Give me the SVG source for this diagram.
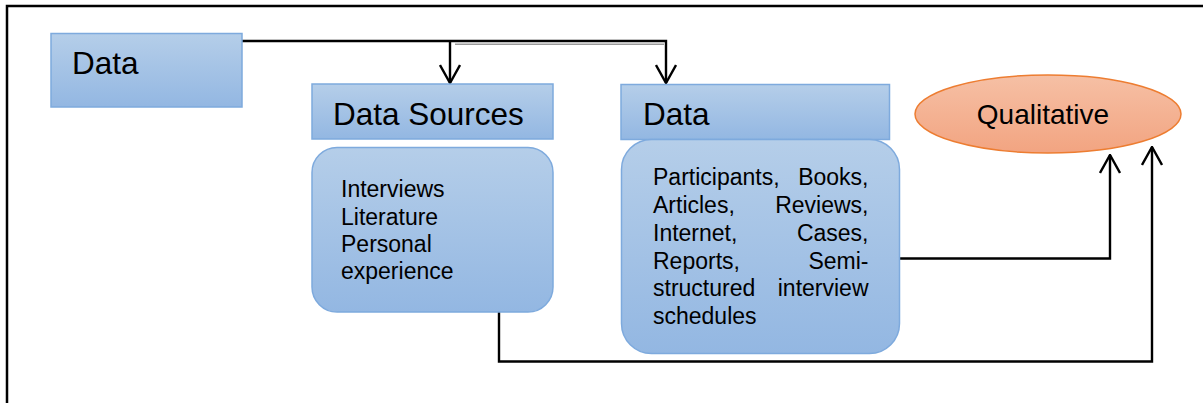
<svg xmlns="http://www.w3.org/2000/svg" width="1203" height="403" viewBox="0 0 1203 403">
<defs>
<linearGradient id="blue" x1="0" y1="0" x2="0" y2="1">
<stop offset="0" stop-color="#b5cee9"/>
<stop offset="1" stop-color="#93b7e2"/>
</linearGradient>
<linearGradient id="orange" x1="0" y1="0" x2="0" y2="1">
<stop offset="0" stop-color="#f6c0a5"/>
<stop offset="1" stop-color="#f2a481"/>
</linearGradient>
<marker id="arr" viewBox="0 0 20 22" refX="19" refY="11" markerWidth="20" markerHeight="22" markerUnits="userSpaceOnUse" orient="auto">
<path d="M1,1 L19,11 L1,21" fill="none" stroke="#000" stroke-width="2.4"/>
</marker>
<style>
.box{fill:url(#blue);stroke:#7eaadd;stroke-width:1.5}
.t{font-family:"Liberation Sans",Arial,sans-serif;fill:#000}
.big{font-size:31.5px}
.mid{font-size:23px}
.r{text-anchor:end}
.con{fill:none;stroke:#000;stroke-width:2.4}
</style>
</defs>
<path d="M7,403 V6 H1203" fill="none" stroke="#000" stroke-width="2.5"/>
<g id="connectors">
<path class="con" d="M242,41 H453"/>
<path class="con" d="M450,41 V83" marker-end="url(#arr)"/>
<path d="M455,44.3 H664" fill="none" stroke="#999" stroke-width="1.5"/>
<path class="con" d="M453,41 H666 V83" marker-end="url(#arr)"/>
<path class="con" d="M900,258.5 H1110 V155" marker-end="url(#arr)"/>
<path class="con" d="M499,312 V361.5 H1152 V147" marker-end="url(#arr)"/>
</g>
<g id="data1">
<rect class="box" x="51" y="33.5" width="191" height="73.5"/>
<text class="t big" x="72" y="73.5">Data</text>
</g>
<g id="datasources">
<rect class="box" x="312" y="84" width="241" height="55"/>
<text class="t big" x="333" y="125">Data Sources</text>
</g>
<g id="sourcelist">
<rect class="box" x="312" y="147.5" width="241" height="164.5" rx="25"/>
<text class="t mid" x="341" y="197">Interviews</text>
<text class="t mid" x="341" y="224.5">Literature</text>
<text class="t mid" x="341" y="252">Personal</text>
<text class="t mid" x="341" y="279">experience</text>
</g>
<g id="data2">
<rect class="box" x="621" y="84.5" width="268.5" height="55"/>
<text class="t big" x="643" y="125">Data</text>
</g>
<g id="datalist">
<rect class="box" x="621.5" y="139.5" width="278" height="214" rx="30"/>
<text class="t mid" x="653" y="185">Participants,</text>
<text class="t mid r" x="868.5" y="185">Books,</text>
<text class="t mid" x="653" y="213">Articles,</text>
<text class="t mid r" x="868.5" y="213">Reviews,</text>
<text class="t mid" x="653" y="241">Internet,</text>
<text class="t mid r" x="868.5" y="241">Cases,</text>
<text class="t mid" x="653" y="268.5">Reports,</text>
<text class="t mid r" x="868.5" y="268.5">Semi-</text>
<text class="t mid" x="653" y="296">structured</text>
<text class="t mid r" x="868.5" y="296">interview</text>
<text class="t mid" x="653" y="323.5">schedules</text>
</g>
<g id="qualitative">
<ellipse cx="1048" cy="114" rx="133" ry="39" fill="url(#orange)" stroke="#ed7d31" stroke-width="1.5"/>
<text class="t" x="1043" y="124" font-size="28" text-anchor="middle">Qualitative</text>
</g>
</svg>
